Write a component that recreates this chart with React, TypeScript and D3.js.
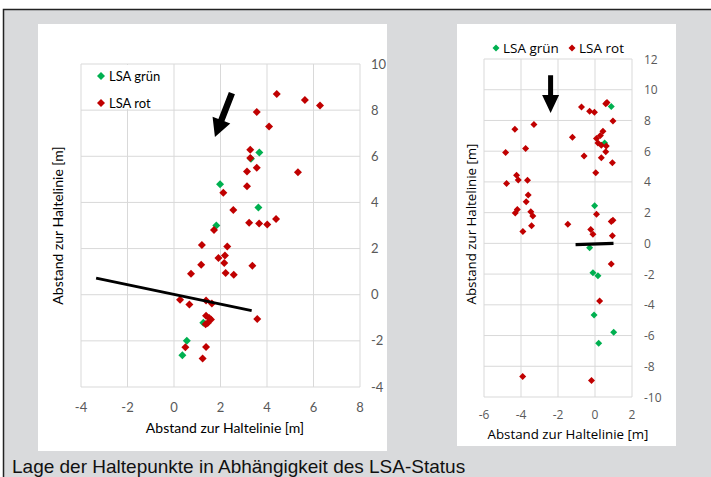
import React from 'react';
import * as d3 from 'd3';

// left chart points [x, y]
const leftGreen: [number, number][] = [
  [3.67, 6.16], [3.31, 5.89], [1.98, 4.79], [3.63, 3.78], [1.82, 3.0],
  [1.26, -1.21], [0.55, -2.0], [0.36, -2.62],
];
const leftRed: [number, number][] = [
  [4.42, 8.7], [5.63, 8.44], [6.28, 8.2], [3.56, 7.92], [4.09, 7.29],
  [3.28, 6.28], [3.28, 5.93], [3.56, 5.5], [3.14, 5.34], [5.33, 5.31],
  [3.14, 4.7], [2.12, 4.42], [2.55, 3.67], [3.23, 3.12], [3.66, 3.09],
  [4.01, 3.04], [4.39, 3.28], [1.72, 2.81], [1.2, 2.16], [2.29, 2.09],
  [1.91, 1.59], [2.19, 1.7], [2.16, 1.37], [1.17, 1.3], [3.37, 1.26],
  [0.73, 0.91], [2.22, 0.94], [2.57, 0.87], [0.26, -0.22], [0.66, -0.42],
  [1.38, -0.25], [1.63, -0.38], [1.38, -0.91], [1.51, -1.01], [1.59, -1.07],
  [1.45, -1.23], [1.36, -1.28], [3.58, -1.05], [0.49, -2.28], [1.38, -2.27],
  [1.23, -2.77],
];
const leftLine: [number, number][] = [[-3.35, 0.72], [3.34, -0.69]];
const leftArrow: [number, number][] = [[2.49, 8.74], [1.76, 6.84]];
const leftXTicks = [-4, -2, 0, 2, 4, 6, 8];
const leftYTicks = [-4, -2, 0, 2, 4, 6, 8, 10];

// right chart points [x, y]
const rightGreen: [number, number][] = [
  [0.88, 8.91], [0.52, 6.54], [-0.02, 2.45], [-0.29, -0.28], [-0.11, -1.91],
  [0.16, -2.1], [-0.05, -4.66], [1.01, -5.79], [0.2, -6.5],
];
const rightRed: [number, number][] = [
  [-4.33, 7.43], [-3.3, 7.74], [-4.83, 5.92], [-3.75, 6.18], [-4.24, 4.44],
  [-4.15, 4.12], [-3.65, 4.1], [-4.78, 3.9], [-3.61, 3.14], [-3.72, 2.71],
  [-4.2, 2.21], [-4.31, 1.97], [-3.47, 2.05], [-3.36, 1.78], [-3.43, 1.15],
  [-3.9, 0.78], [-0.73, 8.88], [-0.29, 8.6], [-0.03, 8.54], [0.58, 9.08],
  [0.65, 9.17], [0.97, 7.97], [-1.22, 6.91], [0.43, 7.3], [0.29, 7.02],
  [0.08, 6.83], [0.16, 6.54], [0.34, 6.39], [0.61, 6.33], [0.58, 5.96],
  [-0.59, 5.68], [0.34, 5.57], [0.94, 5.24], [0.04, 4.59], [0.08, 1.9],
  [-1.47, 1.25], [-0.23, 0.91], [-0.11, 0.6], [0.88, 1.43], [0.97, 1.51],
  [0.94, 0.49], [0.88, -1.35], [0.25, -3.75], [-3.91, -8.67], [-0.19, -8.93],
];
const rightLine: [number, number][] = [[-1.05, -0.08], [1.0, 0.0]];
const rightArrow: [number, number][] = [[-2.4, 10.94], [-2.4, 8.49]];
const rightXTicks = [-6, -4, -2, 0, 2];
const rightYTicks = [-10, -8, -6, -4, -2, 0, 2, 4, 6, 8, 10, 12];

const GREEN = '#00b050';
const RED = '#c00000';
const GRID = '#d9d9d9';
const LABEL = '#595959';

const diamond = (cx: number, cy: number, r: number) =>
  `M${cx},${cy - r}L${cx + r},${cy}L${cx},${cy + r}L${cx - r},${cy}Z`;

function arrowPath(x1: number, y1: number, x2: number, y2: number, shaft: number, headL: number, headW: number) {
  const dx = x2 - x1, dy = y2 - y1;
  const len = Math.hypot(dx, dy);
  const ux = dx / len, uy = dy / len;
  const nx = -uy, ny = ux;
  const bx = x2 - ux * headL, by = y2 - uy * headL;
  const pts = [
    [x1 + nx * shaft / 2, y1 + ny * shaft / 2],
    [bx + nx * shaft / 2, by + ny * shaft / 2],
    [bx + nx * headW / 2, by + ny * headW / 2],
    [x2, y2],
    [bx - nx * headW / 2, by - ny * headW / 2],
    [bx - nx * shaft / 2, by - ny * shaft / 2],
    [x1 - nx * shaft / 2, y1 - ny * shaft / 2],
  ];
  return 'M' + pts.map(p => p.join(',')).join('L') + 'Z';
}

function LeftChart() {
  const x = d3.scaleLinear().domain([-4, 8]).range([81, 360]);
  const y = d3.scaleLinear().domain([-4, 10]).range([387, 64]);
  const font = 'Lato, sans-serif';
  const [a0, a1] = leftArrow;
  return (
    <g fontFamily={font}>
      <rect x={38} y={24} width={349} height={427} fill="#fff" />
      {leftXTicks.map(t => (
        <line key={'gx' + t} x1={x(t)} x2={x(t)} y1={y(10)} y2={y(-4)} stroke={GRID} strokeWidth={1} />
      ))}
      {leftYTicks.map(t => (
        <line key={'gy' + t} x1={x(-4)} x2={x(8)} y1={y(t)} y2={y(t)} stroke={GRID} strokeWidth={1} />
      ))}
      {leftXTicks.map(t => (
        <text key={'tx' + t} x={x(t)} y={y(-4) + 25} textAnchor="middle" fontSize={13} fill={LABEL}>{t}</text>
      ))}
      {leftYTicks.map(t => (
        <text key={'ty' + t} x={371} y={y(t) + 4.5} fontSize={13} fill={LABEL}>{t}</text>
      ))}
      <text x={225} y={433} textAnchor="middle" fontSize={14} fill="#000">Abstand zur Haltelinie [m]</text>
      <text transform={`translate(63,${(y(10) + y(-4)) / 2}) rotate(-90)`} textAnchor="middle" fontSize={14} fill="#000">
        Abstand zur Haltelinie [m]
      </text>
      {/* legend */}
      <rect x={82} y={65} width={80} height={44} fill="#fff" />
      <path d={diamond(101, 76, 4)} fill={GREEN} />
      <text x={109} y={80.5} fontSize={13} fill="#000">LSA grün</text>
      <path d={diamond(101, 103, 4)} fill={RED} />
      <text x={109} y={107.5} fontSize={13} fill="#000">LSA rot</text>
      {leftGreen.map((d, i) => (
        <path key={'lg' + i} d={diamond(x(d[0]), y(d[1]), 4)} fill={GREEN} />
      ))}
      {leftRed.map((d, i) => (
        <path key={'lr' + i} d={diamond(x(d[0]), y(d[1]), 4)} fill={RED} />
      ))}
      <line x1={x(leftLine[0][0])} y1={y(leftLine[0][1])} x2={x(leftLine[1][0])} y2={y(leftLine[1][1])} stroke="#000" strokeWidth={2.8} />
      <path d={arrowPath(x(a0[0]), y(a0[1]), x(a1[0]), y(a1[1]), 6.5, 18, 19)} fill="#000" />
    </g>
  );
}

function RightChart() {
  const x = d3.scaleLinear().domain([-6, 2]).range([484, 632]);
  const y = d3.scaleLinear().domain([-10, 12]).range([397, 59]);
  const font = '"Open Sans", sans-serif';
  const [a0, a1] = rightArrow;
  return (
    <g fontFamily={font}>
      <rect x={457} y={24} width={219} height={422} fill="#fff" />
      {rightXTicks.map(t => (
        <line key={'gx' + t} x1={x(t)} x2={x(t)} y1={y(12)} y2={y(-10)} stroke={GRID} strokeWidth={1} />
      ))}
      {rightYTicks.map(t => (
        <line key={'gy' + t} x1={x(-6)} x2={x(2)} y1={y(t)} y2={y(t)} stroke={GRID} strokeWidth={1} />
      ))}
      {rightXTicks.map(t => (
        <text key={'tx' + t} x={x(t)} y={y(-10) + 22} textAnchor="middle" fontSize={12} fill={LABEL}>{t}</text>
      ))}
      {rightYTicks.map(t => (
        <text key={'ty' + t} x={644} y={y(t) + 4.5} fontSize={12} fill={LABEL}>{t}</text>
      ))}
      <text x={568} y={439} textAnchor="middle" fontSize={13.3} fill="#000">Abstand zur Haltelinie [m]</text>
      <text transform={`translate(476,${(y(12) + y(-10)) / 2 - 4}) rotate(-90)`} textAnchor="middle" fontSize={13.3} fill="#000">
        Abstand zur Haltelinie [m]
      </text>
      {/* legend */}
      <path d={diamond(496, 48, 3.5)} fill={GREEN} />
      <text x={503} y={52.5} fontSize={13.5} fill="#000">LSA grün</text>
      <path d={diamond(572, 48, 3.5)} fill={RED} />
      <text x={579} y={52.5} fontSize={13.5} fill="#000">LSA rot</text>
      {rightGreen.map((d, i) => (
        <path key={'rg' + i} d={diamond(x(d[0]), y(d[1]), 3.5)} fill={GREEN} />
      ))}
      {rightRed.map((d, i) => (
        <path key={'rr' + i} d={diamond(x(d[0]), y(d[1]), 3.5)} fill={RED} />
      ))}
      <line x1={x(rightLine[0][0])} y1={y(rightLine[0][1])} x2={x(rightLine[1][0])} y2={y(rightLine[1][1])} stroke="#000" strokeWidth={3.2} />
      <path d={arrowPath(x(a0[0]), y(a0[1]), x(a1[0]), y(a1[1]), 5, 18, 17)} fill="#000" />
    </g>
  );
}

export default function App() {
  return (
    <div style={{ position: 'fixed', left: 0, top: 0 }}>
      <svg width={711} height={477} style={{ display: 'block' }}>
        <rect x={0} y={0} width={711} height={477} fill="#fff" />
        <rect x={3.5} y={9.5} width={720} height={480} fill="#d9dadc" stroke="#222" strokeWidth={1.5} />
        <LeftChart />
        <RightChart />
        <text x={12} y={473} fontFamily='"Liberation Sans", Arial, sans-serif' fontSize={19} fill="#111">
          Lage der Haltepunkte in Abhängigkeit des LSA-Status
        </text>
      </svg>
    </div>
  );
}
